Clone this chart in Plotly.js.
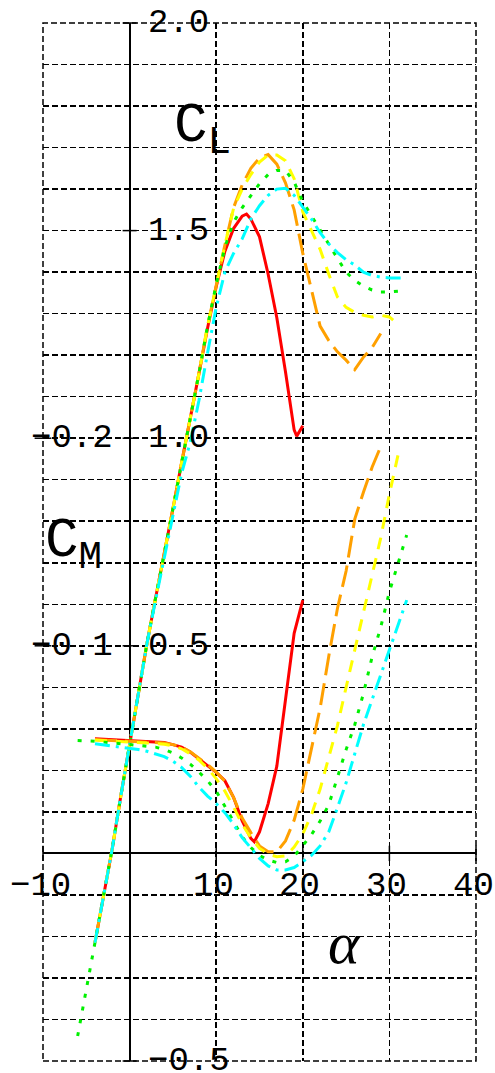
<!DOCTYPE html>
<html><head><meta charset="utf-8">
<script src="https://cdn.plot.ly/plotly-3.0.1.min.js"></script>
<style>html,body{margin:0;padding:0;background:#fff;}#chart{width:495px;height:1073px;}</style>
</head><body><div id="chart"></div>
<script>
// ---- data (alpha in degrees) ----
const redAlphaCL = [-4,-3,-2,-1,0,1,2,3,4,5,6,7,8,9,10,11,12,13,13.5,14,15,16,17,18,19,19.3,20];
const redCL = [-0.215,-0.1,0.012,0.14,0.263,0.385,0.505,0.615,0.72,0.83,0.94,1.045,1.155,1.265,1.365,1.45,1.505,1.535,1.54,1.528,1.485,1.395,1.29,1.16,1.02,1.005,1.03];
const redAlphaCM = [-4,-2,0,2,4,5,6,7,8,9,10,11,12,13,14,14.4,15,16,17,18,19,20];
const redCM = [-0.0552,-0.0548,-0.0544,-0.054,-0.0534,-0.0524,-0.0512,-0.0488,-0.0456,-0.0424,-0.039,-0.035,-0.027,-0.0156,-0.0072,-0.0056,-0.0104,-0.024,-0.042,-0.074,-0.106,-0.122];

const orangeAlphaCL = [-4,-3,-2,-1,0,1,2,3,4,5,6,7,8,9,10,11,12,13,14,15,16,17,18,19,20,21,22,23,24,25,26,27,28,29];
const orangeCL = [-0.215,-0.1,0.012,0.14,0.263,0.385,0.505,0.615,0.72,0.83,0.94,1.045,1.155,1.27,1.37,1.465,1.555,1.61,1.65,1.675,1.683,1.66,1.615,1.55,1.445,1.355,1.27,1.235,1.208,1.188,1.165,1.195,1.218,1.252];
const orangeAlphaCM = [-4,-2,0,2,4,5,6,7,8,9,10,11,12,13,14,15,16,17,18,19,20,21,22,23,24,25,26,27,28,29];
const orangeCM = [-0.0548,-0.0544,-0.054,-0.0538,-0.0532,-0.0524,-0.0512,-0.049,-0.046,-0.0428,-0.0392,-0.0348,-0.027,-0.017,-0.01,-0.0036,-0.0008,-0.0008,-0.006,-0.016,-0.031,-0.05,-0.07,-0.095,-0.118,-0.136,-0.161,-0.174,-0.186,-0.196];

const yellowAlphaCL = [-4,-3,-2,-1,0,1,2,3,4,5,6,7,8,9,10,11,12,13,14,15,16,17,18,19,20,21,22,23,24,25,26,27,28,29,30,31];
const yellowCL = [-0.215,-0.1,0.012,0.14,0.263,0.385,0.505,0.615,0.72,0.83,0.94,1.045,1.155,1.27,1.37,1.465,1.553,1.6,1.635,1.665,1.682,1.682,1.668,1.625,1.545,1.5,1.455,1.395,1.34,1.315,1.303,1.296,1.292,1.296,1.292,1.275];
const yellowAlphaCM = [-4,-2,0,2,4,5,6,7,8,9,10,11,12,13,14,15,16,17,18,19,20,21,22,23,24,25,26,27,28,29,30,31];
const yellowCM = [-0.0546,-0.0542,-0.0536,-0.0532,-0.0526,-0.0518,-0.0504,-0.048,-0.045,-0.041,-0.036,-0.03,-0.0224,-0.014,-0.0076,-0.0024,0.0004,0.0016,0.0012,-0.003,-0.0094,-0.0186,-0.031,-0.046,-0.0616,-0.08,-0.098,-0.1146,-0.1336,-0.152,-0.173,-0.192];

const greenAlphaCL = [-6,-5,-4,-3,-2,-1,0,1,2,3,4,5,6,7,8,9,10,11,12,13,14,15,16,17,18,19,20,21,22,23,24,25,26,27,28,29,30,31,32];
const greenCL = [-0.44,-0.33,-0.215,-0.1,0.012,0.14,0.263,0.385,0.505,0.615,0.72,0.83,0.94,1.045,1.155,1.27,1.37,1.46,1.52,1.555,1.585,1.613,1.635,1.645,1.645,1.617,1.57,1.535,1.5,1.468,1.433,1.4,1.38,1.366,1.357,1.352,1.352,1.354,1.357];
const greenAlphaCM = [-6,-4,-2,0,2,3,4,5,6,7,8,9,10,11,12,13,14,15,16,17,18,19,20,21,22,23,24,25,26,27,28,29,30,31,32];
const greenCM = [-0.0544,-0.054,-0.0532,-0.0524,-0.0516,-0.0512,-0.05,-0.0484,-0.046,-0.043,-0.0392,-0.035,-0.03,-0.023,-0.0154,-0.008,-0.0028,0.001,0.0032,0.0044,0.004,0.0014,-0.0036,-0.009,-0.0156,-0.0234,-0.0366,-0.05,-0.062,-0.077,-0.0946,-0.109,-0.126,-0.14,-0.1534];

const cyanAlphaCL = [-4,-3,-2,-1,0,1,2,3,4,5,6,7,8,9,10,11,12,13,14,15,16,17,18,19,20,21,22,23,24,25,26,27,28,29,30,31,32];
const cyanCL = [-0.215,-0.1,0.012,0.14,0.263,0.385,0.505,0.61,0.71,0.815,0.915,0.99,1.09,1.205,1.315,1.4,1.445,1.48,1.528,1.56,1.585,1.6,1.602,1.585,1.556,1.528,1.495,1.468,1.447,1.43,1.417,1.4,1.392,1.388,1.386,1.386,1.386];
const cyanAlphaCM = [-4,-2,0,1,2,3,4,5,6,7,8,9,10,11,12,13,14,15,16,17,18,19,20,21,22,23,24,25,26,27,28,29,30,31,32];
const cyanCM = [-0.0528,-0.0518,-0.0508,-0.05,-0.0492,-0.048,-0.0466,-0.0444,-0.0414,-0.0372,-0.032,-0.0276,-0.024,-0.0196,-0.014,-0.0076,-0.0024,0.0024,0.006,0.008,0.008,0.0068,0.004,0.001,-0.0036,-0.0104,-0.022,-0.034,-0.048,-0.062,-0.074,-0.086,-0.098,-0.11,-0.122];

// ---- ticks ----
const alphaTickVals = [-10,10,20,30,40];
const alphaTickText = ['\u221210','10','20','30','40'];
const clTickVals = [2.0,1.5,1.0,0.5,-0.5];
const clTickText = ['2.0','1.5','1.0','0.5','\u22120.5'];
const cmTickVals = [-0.2,-0.1];
const cmTickText = ['\u22120.2','\u22120.1'];

const series = [
  {a1:redAlphaCL, cl:redCL, a2:redAlphaCM, cm:redCM, color:'#ff0000', dash:'solid'},
  {a1:orangeAlphaCL, cl:orangeCL, a2:orangeAlphaCM, cm:orangeCM, color:'#ffa000', dash:'22px,8px'},
  {a1:yellowAlphaCL, cl:yellowCL, a2:yellowAlphaCM, cm:yellowCM, color:'#ffff00', dash:'12px,9px'},
  {a1:greenAlphaCL, cl:greenCL, a2:greenAlphaCM, cm:greenCM, color:'#00f000', dash:'4px,9px'},
  {a1:cyanAlphaCL, cl:cyanCL, a2:cyanAlphaCM, cm:cyanCM, color:'#00ffff', dash:'15px,6px,3px,6px'}
];

const traces = [];
series.forEach(s => {
  traces.push({x:s.a1, y:s.cl, mode:'lines', line:{color:s.color, width:3, dash:s.dash}, xaxis:'x', yaxis:'y', hoverinfo:'skip'});
  traces.push({x:s.a2, y:s.cm, mode:'lines', line:{color:s.color, width:3, dash:s.dash}, xaxis:'x', yaxis:'y2', hoverinfo:'skip'});
});
// tick marks
traces.push({x:clTickVals.map(()=>0), y:clTickVals, mode:'markers', marker:{symbol:'line-ew', size:10, line:{width:1.5, color:'#000'}}, yaxis:'y', cliponaxis:false, hoverinfo:'skip'});
traces.push({x:alphaTickVals, y:alphaTickVals.map(()=>0), mode:'markers', marker:{symbol:'line-ns', size:11, line:{width:1.5, color:'#000'}}, yaxis:'y', cliponaxis:false, hoverinfo:'skip'});
traces.push({x:cmTickVals.map(()=>-10), y:cmTickVals, mode:'markers', marker:{symbol:'line-ew', size:12, line:{width:1.5, color:'#000'}}, yaxis:'y2', cliponaxis:false, hoverinfo:'skip'});

const monoFam = 'Liberation Mono, DejaVu Sans Mono, monospace';
const tickFont = {family:monoFam, size:34, color:'#000'};
const annotations = [];
clTickVals.forEach((v,i)=>annotations.push({x:0, y:v, xref:'x', yref:'y', text:clTickText[i], showarrow:false, xanchor:'left', yanchor:'middle', xshift:16, font:tickFont}));
cmTickVals.forEach((v,i)=>annotations.push({x:-10, y:v, xref:'x', yref:'y2', text:cmTickText[i], showarrow:false, xanchor:'left', yanchor:'middle', xshift:-14, font:tickFont}));
alphaTickVals.forEach((v,i)=>annotations.push({x:v, y:0, xref:'x', yref:'y', text:alphaTickText[i], showarrow:false, xanchor:'center', yanchor:'middle', yshift:-33, xshift:-3, font:tickFont}));
annotations.push({x:4.9, y:1.835, xref:'x', yref:'y', text:'C<sub>L</sub>', showarrow:false, xanchor:'left', yanchor:'top', font:{family:monoFam, size:56, color:'#000'}});
annotations.push({x:-9.98, y:0.835, xref:'x', yref:'y', text:'C<sub>M</sub>', showarrow:false, xanchor:'left', yanchor:'top', font:{family:monoFam, size:56, color:'#000'}});
annotations.push({x:24.8, y:-0.216, xref:'x', yref:'y', text:'<i>\u03b1</i>', showarrow:false, xanchor:'center', yanchor:'middle', font:{family:'Liberation Serif, DejaVu Serif, serif', size:60, color:'#000'}});

const gridLine = {color:'#000', width:1.5, dash:'6px,3px'};
const layout = {
  width:495, height:1073,
  margin:{l:43, r:19, t:23, b:12, pad:0},
  paper_bgcolor:'#fff', plot_bgcolor:'#fff',
  showlegend:false,
  xaxis:{range:[-10,40], dtick:10, tick0:0, showgrid:true, gridcolor:'#000', gridwidth:1.5, griddash:'6px,3px',
         zeroline:true, zerolinecolor:'#000', zerolinewidth:2, showticklabels:false, ticks:'', showline:false, fixedrange:true},
  yaxis:{range:[-0.5,2.0], dtick:0.1, tick0:0, showgrid:true, gridcolor:'#000', gridwidth:1.5, griddash:'6px,3px',
         zeroline:true, zerolinecolor:'#000', zerolinewidth:2, showticklabels:false, ticks:'', showline:false, fixedrange:true},
  yaxis2:{range:[0.1,-0.4], overlaying:'y', showgrid:false, zeroline:false, showticklabels:false, ticks:'', showline:false, fixedrange:true},
  shapes:[{type:'rect', xref:'paper', yref:'paper', x0:0, x1:1, y0:0, y1:1, line:gridLine, layer:'below'}],
  annotations:annotations
};
Plotly.newPlot('chart', traces, layout, {staticPlot:true, displayModeBar:false});
</script></body></html>
